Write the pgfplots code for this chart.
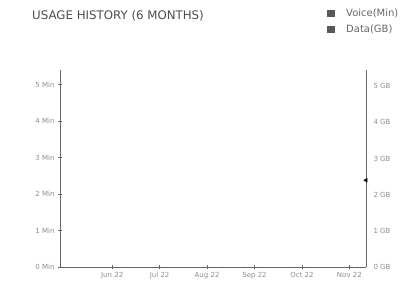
\documentclass[border=0pt]{standalone}
\usepackage{pgfplots}
\pgfplotsset{compat=1.18}
\usepackage{fontspec}
\setmainfont{DejaVu Sans}
\definecolor{axgray}{gray}{0.4}
\definecolor{txtgray}{gray}{0.55}
\definecolor{leggray}{gray}{0.35}
\begin{document}
\begin{tikzpicture}
\path[use as bounding box] (0pt,0pt) rectangle (401pt,296pt);
\node[anchor=west,font=\fontsize{11.8}{14}\selectfont,text=black!70,inner sep=0] at (32pt,280pt) {USAGE HISTORY (6 MONTHS)};
\fill[leggray] (327pt,279pt) rectangle (335pt,286pt);
\fill[leggray] (327pt,263pt) rectangle (335pt,270pt);
\node[anchor=west,font=\fontsize{10}{12}\selectfont,text=black!60,inner sep=0] at (346pt,282.5pt) {Voice(Min)};
\node[anchor=west,font=\fontsize{10}{12}\selectfont,text=black!60,inner sep=0] at (346pt,266.5pt) {Data(GB)};
\begin{axis}[
  at={(60pt,29pt)}, anchor=south west, 
  scale only axis, width=306pt, height=197pt,
  xmin=-1.1, xmax=5.35, ymin=0, ymax=5.4,
  axis x line*=bottom, axis y line*=left,
  axis line style={axgray, line width=0.8pt},
  xtick={0,1,2,3,4,5},
  xticklabels={Jun 22,Jul 22,Aug 22,Sep 22,Oct 22,Nov 22},
  ytick={0,1,2,3,4,5},
  yticklabels={0 Min,1 Min,2 Min,3 Min,4 Min,5 Min},
  tick align=center, major tick length=4pt,
  tick style={axgray, line width=0.6pt},
  ticklabel style={font=\fontsize{7}{8}\selectfont, text=txtgray},
  /pgf/number format/assume math mode=true,
]
\addplot[draw=none, forget plot] coordinates {(0,0)};
\end{axis}
\begin{axis}[
  at={(60pt,29pt)}, anchor=south west,
  scale only axis, width=306pt, height=197pt,
  xmin=-1.1, xmax=5.35, ymin=0, ymax=5.45,
  axis x line=none, axis y line*=right,
  axis line style={axgray, line width=0.8pt},
  ytick={0,1,2,3,4,5},
  yticklabels={0 GB,1 GB,2 GB,3 GB,4 GB,5 GB},
  tick align=outside, major tick length=0pt,
  ticklabel style={font=\fontsize{7}{8}\selectfont, text=txtgray},
  yticklabel style={xshift=4pt},
  /pgf/number format/assume math mode=true,
]
\addplot[only marks, mark=triangle*, mark size=2.2pt, black, mark options={rotate=-30}] coordinates {(5.35,2.4)};
\end{axis}
\end{tikzpicture}
\end{document}
